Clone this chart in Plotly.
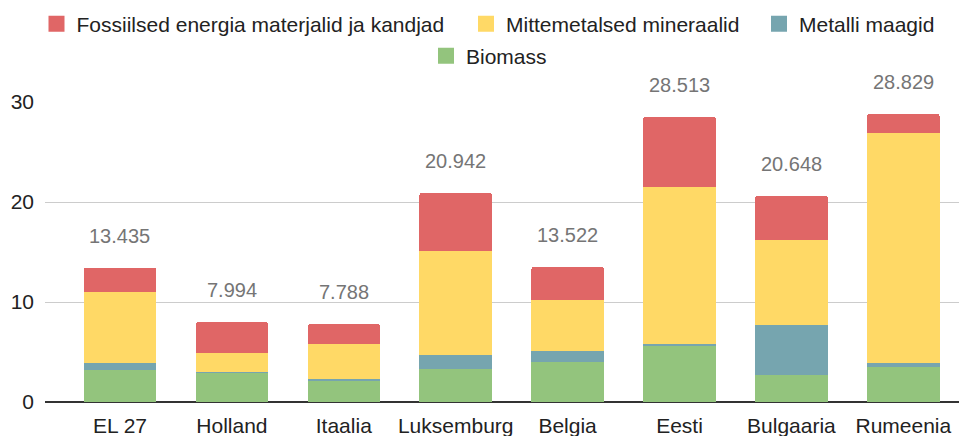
import plotly.graph_objects as go

categories = ["EL 27", "Holland", "Itaalia", "Luksemburg", "Belgia", "Eesti", "Bulgaaria", "Rumeenia"]
biomass = [3.2, 2.9, 2.15, 3.35, 4.05, 5.64, 2.69, 3.55]
metalli_maagid = [0.7, 0.12, 0.2, 1.4, 1.06, 0.17, 5.02, 0.34]
mittemetalsed = [7.1, 1.93, 3.46, 10.31, 5.06, 15.69, 8.54, 22.99]
fossiilsed = [2.435, 3.044, 1.978, 5.882, 3.352, 7.013, 4.398, 1.949]
totals = [13.435, 7.994, 7.788, 20.942, 13.522, 28.513, 20.648, 28.829]
y_ticks = [0, 10, 20, 30]

FONT = "Arial, Liberation Sans, sans-serif"

# the page body has an 8px default margin; size the figure to the window
W, H = 959, 428
OFF = 8

# (name, values, colour, legend id, swatch centre x / row centre y in window px)
series = [
    ("Biomass", biomass, "#93C47D", "legend4", 446, 56),
    ("Metalli maagid", metalli_maagid, "#76A5AF", "legend3", 779, 24),
    ("Mittemetalsed mineraalid", mittemetalsed, "#FFD966", "legend2", 486, 24),
    ("Fossiilsed energia materjalid ja kandjad", fossiilsed, "#E06666", "legend", 56.5, 24),
]

fig = go.Figure()
legends = {}
for name, vals, color, leg, sx, sy in series:
    fig.add_trace(go.Bar(
        x=categories, y=vals, name=name, marker_color=color,
        marker_line_width=0, showlegend=False, hoverinfo="x+y+name",
    ))
    # legend proxy with a larger square swatch
    fig.add_trace(go.Scatter(
        x=[None], y=[None], mode="markers", name=name,
        marker=dict(symbol="square", size=20, color=color),
        legend=leg, showlegend=True,
    ))
    legends[leg] = dict(
        orientation="h", xref="container", yref="container",
        x=(sx - OFF - 20) / W, xanchor="left",
        y=1 - (sy - OFF) / H, yanchor="middle",
        font=dict(family=FONT, size=21, color="#222222"),
        itemsizing="trace", bgcolor="rgba(0,0,0,0)",
    )

for c, t in zip(categories, totals):
    fig.add_annotation(
        x=c, y=t, text=f"{t:.3f}", showarrow=False,
        yanchor="bottom", yshift=19,
        font=dict(family=FONT, size=20, color="#757575"),
    )

fig.update_layout(
    width=W, height=H,
    margin=dict(l=37, r=1, t=94, b=34),
    barmode="stack", bargap=0.352, barcornerradius=3,
    plot_bgcolor="white", paper_bgcolor="white",
    font=dict(family=FONT, size=21, color="#222222"),
    xaxis=dict(
        type="category", range=[-0.67, 7.56], showgrid=False,
        ticks="", ticklabelstandoff=9, automargin=False,
        tickfont=dict(family=FONT, size=21, color="#222222"),
        showline=False, fixedrange=True,
    ),
    yaxis=dict(
        range=[0, 30], tickvals=y_ticks, showgrid=True, gridcolor="#CCCCCC",
        gridwidth=1, zeroline=True, zerolinecolor="#333333", zerolinewidth=1.5,
        ticks="", ticklabelstandoff=10, automargin=False,
        tickfont=dict(family=FONT, size=21, color="#222222"),
        showline=False, fixedrange=True,
    ),
    **legends,
)

fig.write_html("out.html")
